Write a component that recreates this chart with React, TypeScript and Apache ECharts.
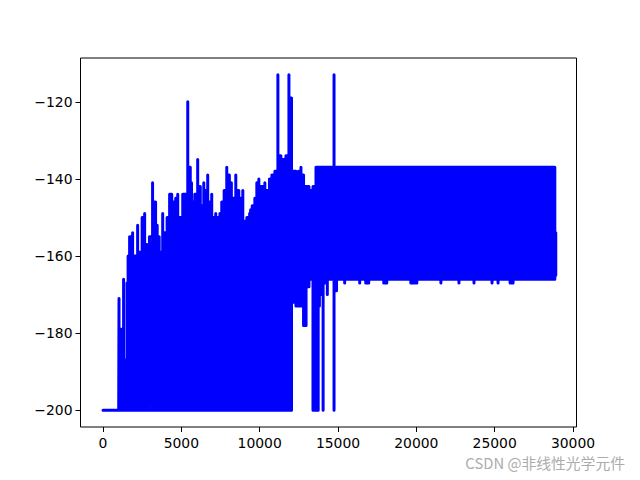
import React, { useEffect, useRef } from "react";
import * as echarts from "echarts";

const baselineX = [0, 1000];
const baselineValue = -200;

const earlyX = [1020,1170,1312,1446,1530,1600,1696,1888,2048,2208,2368,2496,2656,2803,2854,2963,3162,3354,3456,3584,3686,3808,3962,4090,4250,4384,4544,4640,4768,4960,5088,5216,5408,5568,5645,5715,5856,6042,6208,6304,6432,6557,6682,6784,6938,7059,7194,7360,7462,7578,7731,7898,8064,8192,8307,8474,8666,8813,8922,9037,9178,9280,9357,9421,9523,9690,9818,9946,10138,10330,10496,10624,10778,10970,11162,11354,11520,11674,11866,12032];
const earlyTop = [-171,-179,-166,-187,-167,-160,-155,-154,-160,-152,-159,-150,-149,-157,-161,-155,-141,-146,-152,-155,-159,-149,-154,-150,-144,-144,-146,-145,-144,-150,-144,-144,-120,-137,-141,-146,-144,-135,-142,-147,-141,-143,-139,-146,-144,-150,-149,-150,-149,-146,-143,-137,-139,-141,-145,-139,-143,-145,-143,-151,-150,-150,-149,-148,-147,-145,-141,-140,-142,-141,-143,-140,-139,-138,-113,-134,-135,-134,-113,-119];
const earlyBottom = -200;

const midX = [12186,12314,12390,12480,12634,12800,12960,13146,13280,13402,13594,13734,13811,13888,14048,14182,14317,14496,14630,14746,14906];
const midTop = [-138,-138,-140,-138,-137,-139,-142,-142,-143,-142,-137,-137,-137,-137,-137,-137,-137,-137,-137,-113,-137];
const midBottom = [-172,-173,-173,-173,-173,-178,-178,-168,-166,-200,-200,-200,-173,-170,-200,-167,-170,-166,-166,-200,-169];

const plateauX = [15040,15232,15424,15616,15808,16000,16192,16384,16576,16768,16960,17152,17344,17536,17728,17920,18112,18304,18496,18688,18880,19072,19264,19456,19648,19840,20032,20224,20416,20608,20800,20992,21184,21376,21568,21760,21952,22144,22336,22528,22720,22912,23104,23296,23488,23680,23872,24064,24256,24448,24640,24832,25024,25216,25408,25600,25792,25984,26176,26368,26560,26752,26944,27136,27328,27520,27712,27904,28096,28288,28480,28672,28840];
const plateauTop = -137;
const plateauBottom = [-166,-166,-167,-166,-166,-166,-166,-167,-166,-167,-167,-166,-166,-166,-166,-167,-167,-166,-166,-166,-166,-166,-166,-166,-167,-167,-167,-166,-166,-166,-166,-166,-166,-166,-167,-166,-166,-166,-166,-166,-167,-166,-166,-166,-166,-167,-166,-166,-166,-166,-166,-167,-166,-167,-166,-166,-166,-167,-167,-166,-166,-166,-166,-166,-166,-166,-166,-166,-166,-166,-166,-166,-166];

const endX = [28900];
const endTop = [-154];
const endBottom = [-165];

const xTicks = [0, 5000, 10000, 15000, 20000, 25000, 30000];
const yTicks = [-200, -180, -160, -140, -120];
const watermark = "CSDN @非线性光学元件";

type Col = { x: number; top: number; bottom: number };

function buildPath(): number[][] {
  const cols: Col[] = [
    ...earlyX.map((x, i) => ({ x, top: earlyTop[i], bottom: earlyBottom })),
    ...midX.map((x, i) => ({ x, top: midTop[i], bottom: midBottom[i] })),
    ...plateauX.map((x, i) => ({ x, top: plateauTop, bottom: plateauBottom[i] })),
    ...endX.map((x, i) => ({ x, top: endTop[i], bottom: endBottom[i] })),
  ];
  const pts: number[][] = baselineX.map((x) => [x, baselineValue]);
  let prev: Col | null = null;
  cols.forEach((c) => {
    if (prev) {
      // close the gap between two neighbouring columns, only over the range they share
      const low = Math.max(prev.bottom, c.bottom);
      const high = Math.min(prev.top, c.top);
      pts.push([prev.x, low], [c.x, low], [prev.x, high], [c.x, high]);
    } else {
      pts.push([c.x, baselineValue]);
    }
    pts.push([c.x, c.bottom], [c.x, c.top], [c.x, c.bottom]);
    prev = c;
  });
  return pts;
}

export default function App() {
  const ref = useRef<HTMLDivElement>(null);
  useEffect(() => {
    document.body.style.margin = "0";
    const chart = echarts.init(ref.current!, undefined, { renderer: "svg" });
    const font = "'DejaVu Sans'";
    chart.setOption({
      animation: false,
      backgroundColor: "#ffffff",
      grid: {
        left: 80.5,
        right: 63.5,
        top: 58,
        bottom: 53,
        show: true,
        borderColor: "#000000",
        borderWidth: 1,
        backgroundColor: "transparent",
        z: 10,
      },
      xAxis: {
        type: "value",
        min: -1439,
        max: 30224,
        splitLine: { show: false },
        axisLine: { show: false, onZero: false },
        axisTick: { show: true, length: 5, customValues: xTicks, lineStyle: { color: "#000", width: 1 } },
        axisLabel: {
          show: true,
          customValues: xTicks,
          margin: 9,
          color: "#000",
          fontSize: 13.9,
          fontFamily: font,
          formatter: (v: number) => String(v),
        },
      },
      yAxis: {
        type: "value",
        min: -204.35,
        max: -108.65,
        splitLine: { show: false },
        axisLine: { show: false, onZero: false },
        axisTick: { show: true, length: 5, customValues: yTicks, lineStyle: { color: "#000", width: 1 } },
        axisLabel: {
          show: true,
          customValues: yTicks,
          margin: 8,
          color: "#000",
          fontSize: 13.9,
          fontFamily: font,
          formatter: (v: number) => String(v).replace("-", "\u2212"),
        },
      },
      series: [
        {
          type: "line",
          data: buildPath(),
          showSymbol: false,
          symbol: "none",
          clip: true,
          silent: true,
          lineStyle: { color: "#0000ff", width: 3, join: "round", cap: "round" },
        },
      ],
      graphic: [
        {
          type: "text",
          right: 15,
          top: 455,
          style: {
            text: watermark,
            fill: "#acacac",
            fontSize: 14.8,
            fontFamily: "'Noto Sans CJK SC', 'DejaVu Sans'",
          },
        },
      ],
    });
    return () => chart.dispose();
  }, []);
  return <div ref={ref} style={{ position: "absolute", left: 0, top: 0, width: 640, height: 480 }} />;
}
